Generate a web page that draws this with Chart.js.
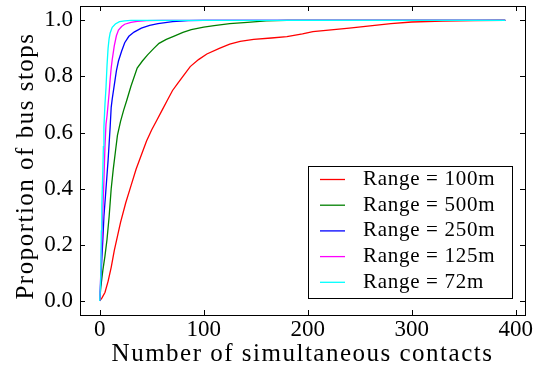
<!DOCTYPE html>
<html>
<head>
<meta charset="utf-8">
<script src="https://cdn.jsdelivr.net/npm/chart.js@4/dist/chart.umd.min.js"></script>
<style>
  html, body { margin: 0; padding: 0; background: #ffffff; }
  #chart { display: block; }
</style>
</head>
<body>
<canvas id="chart" width="540" height="370"></canvas>
<script>
// Cumulative share of bus stops vs. number of simultaneous contacts, per radio range.
const seriesNames = ['Range = 100m', 'Range = 500m', 'Range = 250m', 'Range = 125m', 'Range = 72m'];
const seriesColors = ['#ff0000', '#008000', '#0000ff', '#ff00ff', '#00ffff'];

const contacts100 = [0, 2, 5, 8, 11, 14, 17, 20, 25, 30, 35, 40, 45, 50, 55, 60, 65, 70, 75, 80, 87, 95, 103, 115, 125, 135, 148, 165, 180, 195, 205, 220, 240, 260, 280, 300, 330, 360, 390];
const share100    = [0, 0.01, 0.03, 0.07, 0.12, 0.18, 0.23, 0.28, 0.35, 0.41, 0.47, 0.52, 0.57, 0.61, 0.645, 0.68, 0.715, 0.75, 0.775, 0.80, 0.835, 0.86, 0.88, 0.90, 0.915, 0.925, 0.932, 0.937, 0.942, 0.952, 0.96, 0.965, 0.972, 0.98, 0.988, 0.994, 0.997, 0.999, 1.0];

const contacts500 = [0, 1, 3, 5, 7, 9, 11, 13, 15, 17, 20, 23, 26, 30, 36, 41, 46, 52, 57, 64, 71, 80, 88, 100, 110, 125, 142, 160, 180, 390];
const share500    = [0, 0.05, 0.11, 0.16, 0.22, 0.30, 0.40, 0.47, 0.53, 0.59, 0.64, 0.68, 0.715, 0.765, 0.83, 0.855, 0.877, 0.90, 0.918, 0.932, 0.943, 0.957, 0.967, 0.976, 0.981, 0.988, 0.993, 0.998, 1.0, 1.0];

const contacts250 = [0, 1, 2, 3, 4, 5, 6, 7, 8, 9, 10, 11, 12, 14, 16, 18, 21, 24, 28, 33, 40, 48, 56, 70, 85, 100, 390];
const share250    = [0, 0.07, 0.15, 0.22, 0.30, 0.35, 0.40, 0.45, 0.50, 0.56, 0.62, 0.69, 0.72, 0.77, 0.82, 0.855, 0.89, 0.92, 0.943, 0.958, 0.972, 0.982, 0.988, 0.995, 0.999, 1.0, 1.0];

const contacts125 = [0, 1, 2, 3, 4, 5, 6, 7, 8, 9, 10, 11, 12, 14, 16, 18, 21, 24, 30, 36, 45, 60, 390];
const share125    = [0, 0.10, 0.22, 0.32, 0.43, 0.55, 0.63, 0.66, 0.70, 0.74, 0.79, 0.83, 0.86, 0.91, 0.945, 0.965, 0.978, 0.986, 0.993, 0.996, 0.999, 1.0, 1.0];

const contacts72 = [0, 1, 1.5, 2, 3, 3.5, 4, 5, 6, 7, 8, 9, 10, 12, 15, 19, 24, 30, 390];
const share72    = [0, 0.09, 0.25, 0.34, 0.47, 0.55, 0.62, 0.70, 0.76, 0.84, 0.90, 0.935, 0.955, 0.975, 0.987, 0.995, 0.998, 1.0, 1.0];

const xTicks = [0, 100, 200, 300, 400];
const yTicks = [0, 0.2, 0.4, 0.6, 0.8, 1.0];
const xTitle = 'Number of simultaneous contacts';
const yTitle = 'Proportion of bus stops';

const contactSeries = [contacts100, contacts500, contacts250, contacts125, contacts72];
const shareSeries = [share100, share500, share250, share125, share72];

const FONT = "'Liberation Serif', 'Times New Roman', serif";

function toPoints(xs, ys) {
  return xs.map((x, i) => ({ x: x, y: ys[i] }));
}

const datasets = seriesNames.map((name, i) => ({
  label: name,
  data: toPoints(contactSeries[i], shareSeries[i]),
  borderColor: seriesColors[i],
  backgroundColor: seriesColors[i],
  borderWidth: 1.3,
  pointRadius: 0,
  showLine: true,
  tension: 0,
  // later ranges are painted over earlier ones
  order: seriesNames.length - i
}));

// Box around the plot area, inward tick marks on all four sides, axis titles.
const framePlugin = {
  id: 'frame',
  afterDatasetsDraw(chart) {
    const { ctx, chartArea: a, scales } = chart;
    const len = 5;
    ctx.save();
    ctx.strokeStyle = '#000';
    ctx.lineWidth = 1;
    ctx.beginPath();
    xTicks.forEach(v => {
      const px = Math.round(scales.x.getPixelForValue(v)) + 0.5;
      ctx.moveTo(px, a.bottom); ctx.lineTo(px, a.bottom - len);
      ctx.moveTo(px, a.top); ctx.lineTo(px, a.top + len);
    });
    yTicks.forEach(v => {
      const py = Math.round(scales.y.getPixelForValue(v)) + 0.5;
      ctx.moveTo(a.left, py); ctx.lineTo(a.left + len, py);
      ctx.moveTo(a.right, py); ctx.lineTo(a.right - len, py);
    });
    ctx.stroke();
    ctx.strokeRect(Math.round(a.left) + 0.5, Math.round(a.top) + 0.5,
                   Math.round(a.right - a.left), Math.round(a.bottom - a.top));

    ctx.fillStyle = '#000';
    ctx.font = '25px ' + FONT;
    ctx.letterSpacing = '1.5px';
    ctx.textAlign = 'center';
    ctx.textBaseline = 'alphabetic';
    ctx.fillText(xTitle, (a.left + a.right) / 2, 361);
    ctx.translate(33, 166);
    ctx.rotate(-Math.PI / 2);
    ctx.fillText(yTitle, 0, 0);
    ctx.restore();
  }
};

// Boxed legend in the lower right of the plot.
const legendBoxPlugin = {
  id: 'legendBox',
  afterDraw(chart) {
    const { ctx, chartArea: a } = chart;
    const boxW = 204, boxH = 132, rowH = 25.7;
    const x0 = a.right - 13 - boxW;
    const y0 = a.bottom - 17 - boxH;
    ctx.save();
    ctx.fillStyle = '#fff';
    ctx.fillRect(x0, y0, boxW, boxH);
    ctx.strokeStyle = '#000';
    ctx.lineWidth = 1;
    ctx.strokeRect(Math.round(x0) + 0.5, Math.round(y0) + 0.5, boxW, boxH);
    ctx.font = '21px ' + FONT;
    ctx.letterSpacing = '0.7px';
    ctx.textBaseline = 'middle';
    ctx.textAlign = 'left';
    chart.data.datasets.forEach((ds, i) => {
      const cy = y0 + 13.5 + i * rowH;
      ctx.strokeStyle = ds.borderColor;
      ctx.lineWidth = 1.3;
      ctx.beginPath();
      ctx.moveTo(x0 + 12, cy);
      ctx.lineTo(x0 + 37, cy);
      ctx.stroke();
      ctx.fillStyle = '#000';
      ctx.fillText(ds.label, x0 + 55, cy);
    });
    ctx.restore();
  }
};

new Chart(document.getElementById('chart'), {
  type: 'scatter',
  data: { datasets: datasets },
  plugins: [framePlugin, legendBoxPlugin],
  options: {
    responsive: false,
    animation: false,
    devicePixelRatio: 1,
    layout: { padding: { top: 6, right: 15, left: 0, bottom: 0 } },
    plugins: {
      legend: { display: false },
      tooltip: { enabled: false }
    },
    scales: {
      x: {
        type: 'linear',
        min: -19,
        max: 409,
        afterFit(scale) {
          scale.height = 55;
          scale.paddingLeft = 0;
          scale.paddingRight = 0;
        },
        afterBuildTicks(scale) { scale.ticks = xTicks.map(v => ({ value: v })); },
        grid: { display: false, drawTicks: false },
        border: { display: false },
        ticks: {
          color: '#000',
          padding: 1,
          maxRotation: 0,
          font: { family: FONT, size: 23 },
          callback: v => String(v)
        }
      },
      y: {
        type: 'linear',
        min: -0.05,
        max: 1.051,
        afterFit(scale) {
          scale.width = 80;
          scale.paddingTop = 0;
          scale.paddingBottom = 0;
        },
        afterBuildTicks(scale) { scale.ticks = yTicks.map(v => ({ value: v })); },
        grid: { display: false, drawTicks: false },
        border: { display: false },
        ticks: {
          color: '#000',
          padding: 7,
          font: { family: FONT, size: 23 },
          callback: v => Number(v).toFixed(1)
        }
      }
    }
  }
});
</script>
</body>
</html>
